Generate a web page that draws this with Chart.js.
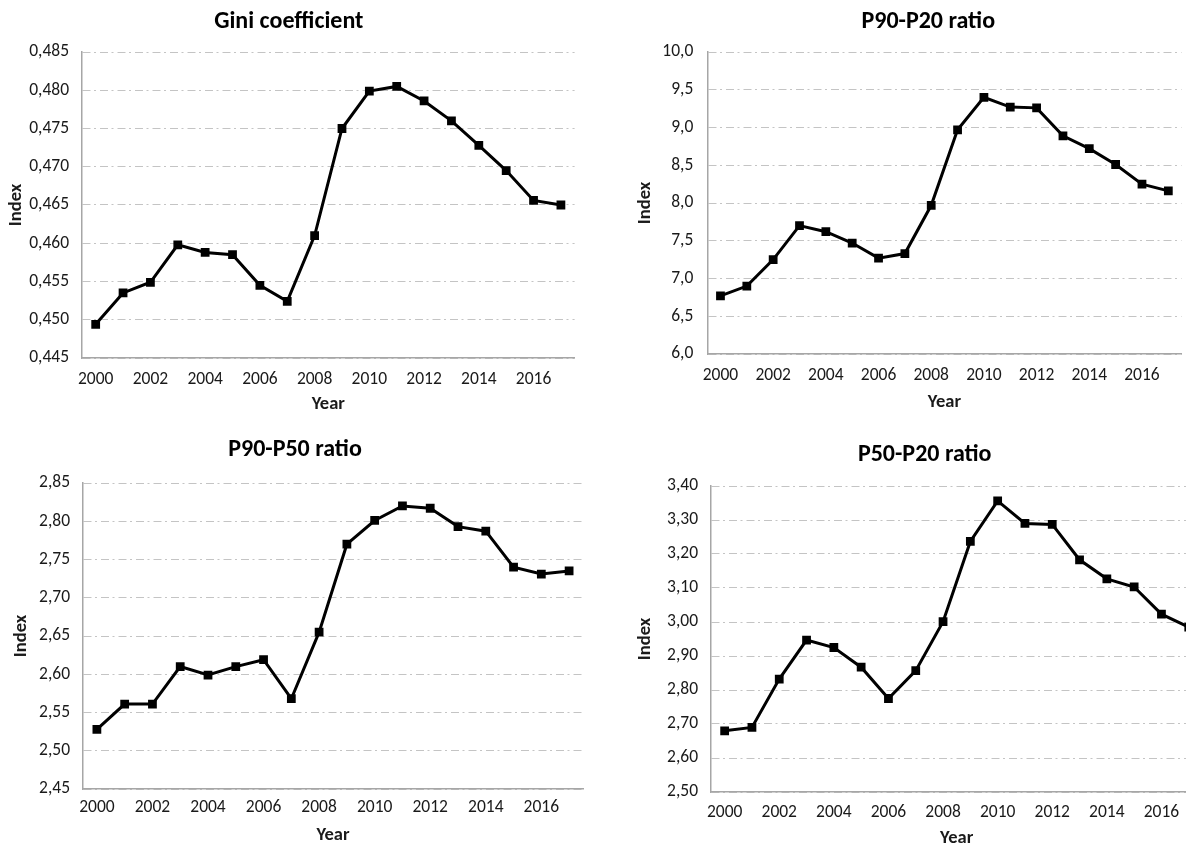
<!DOCTYPE html>
<html>
<head>
<meta charset="utf-8">
<script src="https://cdn.jsdelivr.net/npm/chart.js@4.4.1/dist/chart.umd.min.js"></script>
<style>
  html, body { margin: 0; padding: 0; background: #fff; }
  body { width: 1186px; height: 844px; overflow: hidden; position: relative; }
  canvas { position: absolute; }
</style>
</head>
<body>
<canvas id="gini" width="593" height="420" style="left:0;top:0"></canvas>
<canvas id="p9020" width="600" height="420" style="left:593px;top:0"></canvas>
<canvas id="p9050" width="593" height="430" style="left:0;top:420px"></canvas>
<canvas id="p5020" width="620" height="430" style="left:593px;top:420px"></canvas>
<script>
const years = ['2000','2001','2002','2003','2004','2005','2006','2007','2008','2009','2010','2011','2012','2013','2014','2015','2016','2017'];

const gini   = [0.4494, 0.4535, 0.4549, 0.4598, 0.4588, 0.4585, 0.4545, 0.4524, 0.4610, 0.4750, 0.4799, 0.4805, 0.4786, 0.4760, 0.4728, 0.4695, 0.4656, 0.4650];
const p90p20 = [6.77, 6.90, 7.25, 7.70, 7.62, 7.47, 7.27, 7.33, 7.97, 8.97, 9.40, 9.27, 9.26, 8.89, 8.72, 8.51, 8.25, 8.16];
const p90p50 = [2.528, 2.561, 2.561, 2.610, 2.599, 2.610, 2.619, 2.568, 2.655, 2.770, 2.801, 2.820, 2.817, 2.793, 2.787, 2.740, 2.731, 2.735];
const p50p20 = [2.680, 2.690, 2.832, 2.947, 2.925, 2.867, 2.775, 2.857, 3.001, 3.237, 3.356, 3.290, 3.287, 3.183, 3.127, 3.103, 3.023, 2.985];

const giniTicks   = [0.445, 0.450, 0.455, 0.460, 0.465, 0.470, 0.475, 0.480, 0.485];
const p9020Ticks  = [6.0, 6.5, 7.0, 7.5, 8.0, 8.5, 9.0, 9.5, 10.0];
const p9050Ticks  = [2.45, 2.50, 2.55, 2.60, 2.65, 2.70, 2.75, 2.80, 2.85];
const p5020Ticks  = [2.50, 2.60, 2.70, 2.80, 2.90, 3.00, 3.10, 3.20, 3.30, 3.40];

const FONT = 'Carlito, Lato, sans-serif';
const TEXT = '#1a1a1a';

// moves the title sideways, the reference centres it off the canvas middle
const titleShift = {
  id: 'titleShift',
  afterLayout(chart, args, opts) {
    const t = chart.titleBlock;
    if (t && opts.dx) { t.left += opts.dx; t.right += opts.dx; }
  }
};

function makeChart(id, title, values, ticks, decimals, b) {
  new Chart(document.getElementById(id), {
    type: 'line',
    data: {
      labels: years,
      datasets: [{
        data: values,
        borderColor: '#000',
        backgroundColor: '#000',
        borderWidth: 3,
        pointStyle: 'rect',
        pointRadius: 6.2,
        pointBorderWidth: 0,
        tension: 0
      }]
    },
    options: {
      responsive: false,
      animation: false,
      layout: { padding: { left: 0, right: b.padR, top: 0, bottom: 0 } },
      plugins: {
        legend: { display: false },
        tooltip: { enabled: false },
        title: {
          display: true,
          text: title,
          color: '#000',
          font: { family: FONT, size: 24, weight: 'bold', lineHeight: 1.2 },
          padding: { top: b.tTop, bottom: b.tBottom }
        },
        titleShift: { dx: b.dx }
      },
      scales: {
        x: {
          offset: true,
          grid: { display: false, drawTicks: false },
          border: { display: true, color: '#a6a6a6', width: 1.5 },
          ticks: {
            color: TEXT,
            font: { family: FONT, size: 17.5, lineHeight: 1.2 },
            padding: b.xPad,
            autoSkip: false,
            maxRotation: 0,
            callback: (v, i) => i % 2 === 0 ? years[i] : ''
          },
          title: {
            display: true,
            text: 'Year',
            color: TEXT,
            font: { family: FONT, size: 18.5, weight: 'bold', lineHeight: 1.2 },
            padding: { top: 0, bottom: b.yearPad }
          },
          afterFit: s => { s.height = b.xH; }
        },
        y: {
          min: ticks[0],
          max: ticks[ticks.length - 1],
          afterBuildTicks: s => { s.ticks = ticks.map(v => ({ value: v })); },
          grid: { color: '#c4c4c4', lineWidth: 1, drawTicks: false },
          border: { display: true, color: '#a6a6a6', width: 1.5, dash: [8, 3.5, 2, 4] },
          ticks: {
            color: TEXT,
            font: { family: FONT, size: 17.5, lineHeight: 1.2 },
            padding: b.yPad,
            callback: v => v.toFixed(decimals).replace('.', ',')
          },
          title: {
            display: true,
            text: 'Index',
            color: TEXT,
            font: { family: FONT, size: 18.5, weight: 'bold', lineHeight: 1.2 },
            padding: { top: b.indexPad, bottom: 0 }
          },
          afterFit: s => { s.width = b.yW; }
        }
      }
    },
    plugins: [titleShift]
  });
}

makeChart('gini', 'Gini coefficient', gini, giniTicks, 3,
  { yW: 82, padR: 18.4, tTop: 7.6, tBottom: 15.6, xH: 62, xPad: 11.5, yearPad: 4.9, indexPad: 4.9, dx: 1.5, yPad: 13 });
makeChart('p9020', 'P90-P20 ratio', p90p20, p9020Ticks, 1,
  { yW: 114.3, padR: 11.5, tTop: 7.6, tBottom: 15.6, xH: 66, xPad: 11.5, yearPad: 6.9, indexPad: 40.9, dx: 41, yPad: 14 });
makeChart('p9050', 'P90-P50 ratio', p90p50, p9050Ticks, 2,
  { yW: 83, padR: 10, tTop: 15.6, tBottom: 18.6, xH: 61, xPad: 8.5, yearPad: 3.9, indexPad: 9.9, dx: 3.5, yPad: 13 });
makeChart('p5020', 'P50-P20 ratio', p50p20, p5020Ticks, 2,
  { yW: 118, padR: 10.6, tTop: 20.6, tBottom: 16.6, xH: 58, xPad: 10.2, yearPad: 0.9, indexPad: 40.9, dx: 27, yPad: 13 });
</script>
</body>
</html>
